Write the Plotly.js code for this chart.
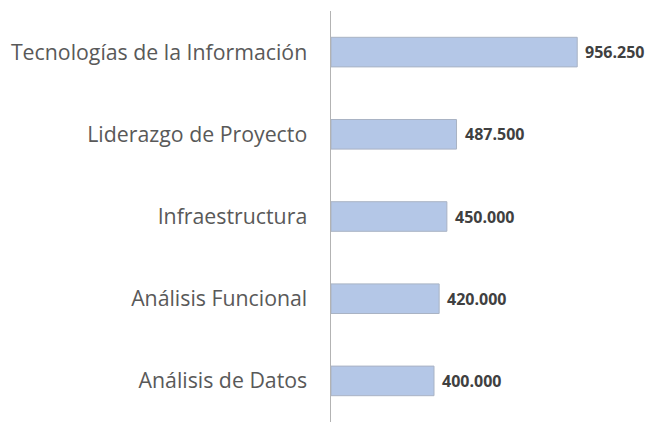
<!DOCTYPE html>
<html>
<head>
<meta charset="utf-8">
<script src="https://cdn.plot.ly/plotly-3.0.1.min.js"></script>
<style>
html,body{margin:0;padding:0;background:#fff;}
#chart{width:650px;height:424px;}
</style>
</head>
<body>
<div id="chart"></div>
<script>
const categories = [
  "Tecnologías de la Información",
  "Liderazgo de Proyecto",
  "Infraestructura",
  "Análisis Funcional",
  "Análisis de Datos"
];
const values = [956250, 487500, 450000, 420000, 400000];

function fmt(v) {
  return String(Math.round(v)).replace(/\B(?=(\d{3})+(?!\d))/g, ".");
}

const trace = {
  type: "bar",
  orientation: "h",
  y: categories,
  x: values,
  width: 0.36,
  marker: { color: "#b4c7e7", line: { color: "#a9b3c4", width: 1 } },
  hoverinfo: "none"
};

const annotations = categories.map((c, i) => ({
  x: values[i],
  y: c,
  xref: "x",
  yref: "y",
  text: "<b>" + fmt(values[i]) + "</b>",
  showarrow: false,
  xanchor: "left",
  yanchor: "middle",
  xshift: 6,
  font: { family: "Open Sans", size: 16, color: "#404040" }
}));

const layout = {
  width: 650,
  height: 424,
  margin: { l: 331, r: 10, t: 11, b: 2 },
  paper_bgcolor: "#ffffff",
  plot_bgcolor: "#ffffff",
  showlegend: false,
  xaxis: {
    range: [0, 1200000],
    showgrid: false,
    zeroline: false,
    showticklabels: false,
    showline: false,
    fixedrange: true
  },
  yaxis: {
    autorange: "reversed",
    showgrid: false,
    zeroline: false,
    showline: true,
    linecolor: "#b3b3b3",
    linewidth: 1.5,
    ticks: "outside",
    ticklen: 18,
    tickcolor: "rgba(0,0,0,0)",
    tickfont: { family: "Open Sans", size: 21.3, color: "#595959" },
    fixedrange: true
  },
  annotations: annotations
};

Plotly.newPlot("chart", [trace], layout, { displayModeBar: false, staticPlot: true });
</script>
</body>
</html>
